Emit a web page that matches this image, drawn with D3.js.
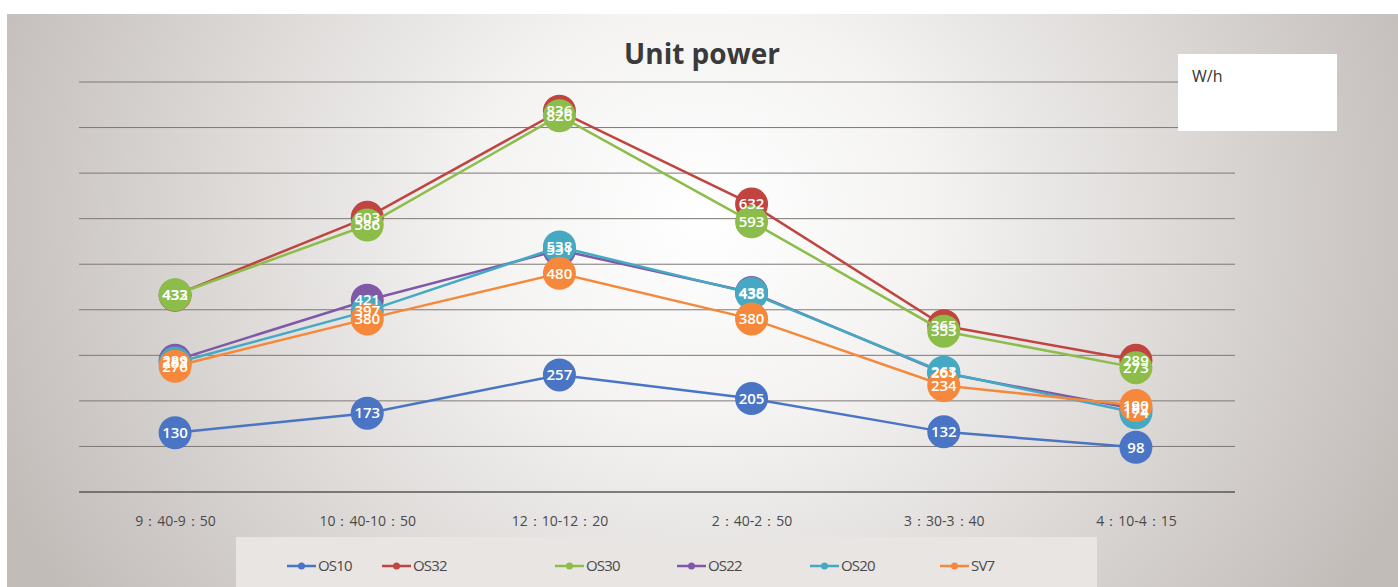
<!DOCTYPE html>
<html>
<head>
<meta charset="utf-8">
<script src="https://cdn.jsdelivr.net/npm/d3@7"></script>
<style>
  html, body { margin: 0; padding: 0; background: #fff; }
  svg { display: block; }
</style>
</head>
<body>
<svg id="chart" width="1398" height="587"></svg>
<script>
const categories = ["9：40-9：50", "10：40-10：50", "12：10-12：20", "2：40-2：50", "3：30-3：40", "4：10-4：15"];
const seriesNames = ["OS10", "OS32", "OS30", "OS22", "OS20", "SV7"];
const os10 = [130, 173, 257, 205, 132, 98];
const os32 = [432, 603, 836, 632, 365, 289];
const os30 = [433, 586, 826, 593, 353, 273];
const os22 = [289, 421, 531, 438, 261, 182];
const os20 = [283, 397, 538, 436, 263, 174];
const sv7 = [276, 380, 480, 380, 234, 190];
const colors = ["#4a74c4", "#c0443f", "#8cbd4a", "#7f59a8", "#45a9c4", "#f5883a"];
const yTicks = [100, 200, 300, 400, 500, 600, 700, 800, 900];

const series = [os10, os32, os30, os22, os20, sv7].map((vals, i) => ({
  name: seriesNames[i],
  color: colors[i],
  values: vals,
}));

const svg = d3.select("#chart");
const W = 1398, H = 587;

// background panel with soft radial shading
const defs = svg.append("defs");
const grad = defs.append("radialGradient")
  .attr("id", "bg")
  .attr("cx", "0.5").attr("cy", "0.35")
  .attr("r", "0.55")
  .attr("gradientTransform", "translate(0.5,0.35) scale(1,2.2) translate(-0.5,-0.35)");
grad.append("stop").attr("offset", "0%").attr("stop-color", "#ffffff");
grad.append("stop").attr("offset", "30%").attr("stop-color", "#f4f3f2");
grad.append("stop").attr("offset", "100%").attr("stop-color", "#c2bcb9");

svg.append("rect").attr("x", 7).attr("y", 14).attr("width", W - 7).attr("height", H - 14)
  .attr("fill", "url(#bg)");

const x = d3.scalePoint().domain(categories).range([79, 1232]).padding(0.5);
const y = d3.scaleLinear().domain([0, 900]).range([492, 82]);

// gridlines
svg.append("g")
  .selectAll("line")
  .data(yTicks)
  .join("line")
  .attr("x1", 79).attr("x2", 1235)
  .attr("y1", d => y(d)).attr("y2", d => y(d))
  .attr("stroke", "#7d7876").attr("stroke-width", 1);

// x axis
const xAxis = svg.append("g")
  .attr("transform", `translate(0,${y(0)})`)
  .call(d3.axisBottom(x).tickSize(0).tickPadding(24));
xAxis.select(".domain").attr("d", "M79,0H1235").attr("stroke", "#5a5655").attr("stroke-width", 1.6);
xAxis.selectAll("text")
  .attr("font-family", "'Open Sans', sans-serif")
  .attr("font-size", 14)
  .attr("fill", "#4a4a4a");

// title
svg.append("text")
  .attr("x", 702).attr("y", 64)
  .attr("text-anchor", "middle")
  .attr("font-family", "'Open Sans', sans-serif")
  .attr("font-weight", "bold")
  .attr("font-size", 28)
  .attr("fill", "#3a3a3a")
  .text("Unit power");

// unit box
svg.append("rect").attr("x", 1178).attr("y", 54).attr("width", 159).attr("height", 77).attr("fill", "#fff");
svg.append("text")
  .attr("x", 1192).attr("y", 82)
  .attr("font-family", "'Open Sans', sans-serif")
  .attr("font-size", 16)
  .attr("fill", "#333")
  .text("W/h");

const line = d3.line()
  .x((d, i) => x(categories[i]))
  .y(d => y(d));

const plot = svg.append("g");
series.forEach(s => {
  plot.append("path")
    .attr("d", line(s.values))
    .attr("fill", "none")
    .attr("stroke", s.color)
    .attr("stroke-width", 2.5);
  plot.selectAll(null)
    .data(s.values)
    .join("circle")
    .attr("cx", (d, i) => x(categories[i]))
    .attr("cy", d => y(d))
    .attr("r", 16.5)
    .attr("fill", s.color);
});

// data labels drawn after all markers
series.forEach(s => {
  plot.selectAll(null)
    .data(s.values)
    .join("text")
    .attr("x", (d, i) => x(categories[i]))
    .attr("y", d => y(d))
    .attr("dy", "0.35em")
    .attr("text-anchor", "middle")
    .attr("font-family", "'Open Sans', sans-serif")
    .attr("font-weight", 600)
    .attr("font-size", 15)
    .attr("fill", "#fff")
    .text(d => d);
});

// legend
svg.append("rect").attr("x", 236).attr("y", 537).attr("width", 861).attr("height", 50)
  .attr("fill", "#e8e5e3");
const legendX = [287, 382, 555, 677, 810, 940];
const lg = svg.append("g")
  .selectAll("g")
  .data(series)
  .join("g")
  .attr("transform", (d, i) => `translate(${legendX[i]},566)`);
lg.append("line").attr("x1", 0).attr("x2", 29)
  .attr("stroke", d => d.color).attr("stroke-width", 2.5);
lg.append("circle").attr("cx", 14.5).attr("r", 3.5).attr("fill", d => d.color);
lg.append("text")
  .attr("x", 31).attr("dy", "0.35em")
  .attr("font-family", "'Open Sans', sans-serif")
  .attr("font-size", 15)
  .attr("letter-spacing", -0.8)
  .attr("fill", "#4a4a4a")
  .text(d => d.name);
</script>
</body>
</html>
